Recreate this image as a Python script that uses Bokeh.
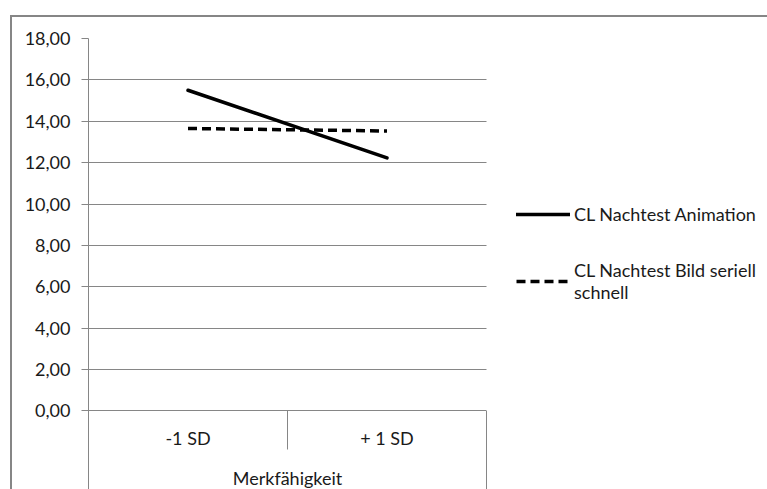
from bokeh.plotting import figure
from bokeh.models import Range1d, FixedTicker, CustomJSTickFormatter, Legend, LegendItem, Grid
from bokeh.core.properties import value
from bokeh.embed import file_html
from bokeh.resources import INLINE

# ---- data ----
categories = ["-1 SD", "+ 1 SD"]
group_label = "Merkfähigkeit"
series_names = ["CL Nachtest Animation", "CL Nachtest Bild seriell\nschnell"]
animation = [15.50, 12.23]
bild_seriell = [13.65, 13.53]
y_ticks = [0, 2, 4, 6, 8, 10, 12, 14, 16, 18]

# ---- layout constants ----
W, H = 767, 489
FRAME_L, PLOT_R, FRAME_T = 88, 486, 38
Y_MAX = 18
PPU = 20.69                      # pixels per unit on y
y_min = Y_MAX - (H - FRAME_T) / PPU
FONT = "Lato"
GRAY = "#868686"
TXT = "#1a1a1a"

def px_to_y(py):
    # convert a vertical pixel position (from top) to a data value
    return Y_MAX - (py - FRAME_T) / PPU

n = len(categories)
xs = [i + 0.5 for i in range(n)]
x_end = n * (W - FRAME_L) / (PLOT_R - FRAME_L)   # frame runs on to the right edge (legend area)

p = figure(width=W, height=H, output_backend="svg", toolbar_location=None,
           x_range=Range1d(0, x_end), y_range=Range1d(y_min, Y_MAX),
           x_axis_location=None, min_border_left=FRAME_L, min_border_right=0,
           min_border_top=FRAME_T, min_border_bottom=0)
p.outline_line_color = None
p.border_fill_color = None
p.background_fill_color = "white"
p.styles = {
    "background-image": f"linear-gradient({GRAY},{GRAY}), linear-gradient({GRAY},{GRAY})",
    "background-size": "2px 474px, 757px 2px",
    "background-position": "10px 15px, 10px 15px",
    "background-repeat": "no-repeat",
}

# y axis
yax = p.yaxis[0]
yax.ticker = FixedTicker(ticks=y_ticks)
yax.formatter = CustomJSTickFormatter(code="return tick.toFixed(2).replace('.', ',');")
yax.axis_line_color = GRAY
yax.major_tick_line_color = GRAY
yax.major_tick_out = 7
yax.major_tick_in = 0
yax.minor_tick_line_color = None
yax.major_label_standoff = 11
yax.major_label_text_font = FONT
yax.major_label_text_font_size = "18px"
yax.major_label_text_color = TXT

p.xgrid.visible = False
if "cross_bounds" in Grid.properties():
    p.ygrid.ticker = FixedTicker(ticks=y_ticks)
    p.ygrid.grid_line_color = GRAY
    p.ygrid.grid_line_width = 1
    p.ygrid.cross_bounds = (0, n)
else:
    p.ygrid.visible = False
    p.segment(x0=[0] * len(y_ticks), y0=y_ticks, x1=[n] * len(y_ticks), y1=y_ticks,
              line_color=GRAY, line_width=1)

# category separators below the zero line
sep_x = list(range(n + 1))
sep_y0 = [0] * (n + 1)
sep_y1 = [y_min if (i == 0 or i == n) else px_to_y(449) for i in range(n + 1)]
p.segment(x0=sep_x, y0=sep_y0, x1=sep_x, y1=sep_y1, line_color=GRAY, line_width=1)

# category labels and group label
p.text(x=xs, y=[px_to_y(437)] * n, text=categories, text_align="center",
       text_baseline="middle", text_font=value(FONT), text_font_size="18px", text_color=TXT)
p.text(x=[n / 2], y=[px_to_y(477)], text=[group_label], text_align="center",
       text_baseline="middle", text_font=value(FONT), text_font_size="18px", text_color=TXT)

# series
r1 = p.line(xs, animation, line_color="black", line_width=3.5, line_cap="round")
r2 = p.line(xs, bild_seriell, line_color="black", line_width=3.5, line_dash="9 5")

legend = Legend(items=[LegendItem(label=series_names[0], renderers=[r1]),
                       LegendItem(label=series_names[1], renderers=[r2])],
                location=(428, 186), margin=0, padding=0, spacing=34,
                glyph_width=54, label_standoff=4,
                border_line_color=None, background_fill_color=None,
                label_text_font=FONT, label_text_font_size="18px", label_text_color=TXT)
p.add_layout(legend)

open("out.html", "w").write(file_html(p, INLINE))
